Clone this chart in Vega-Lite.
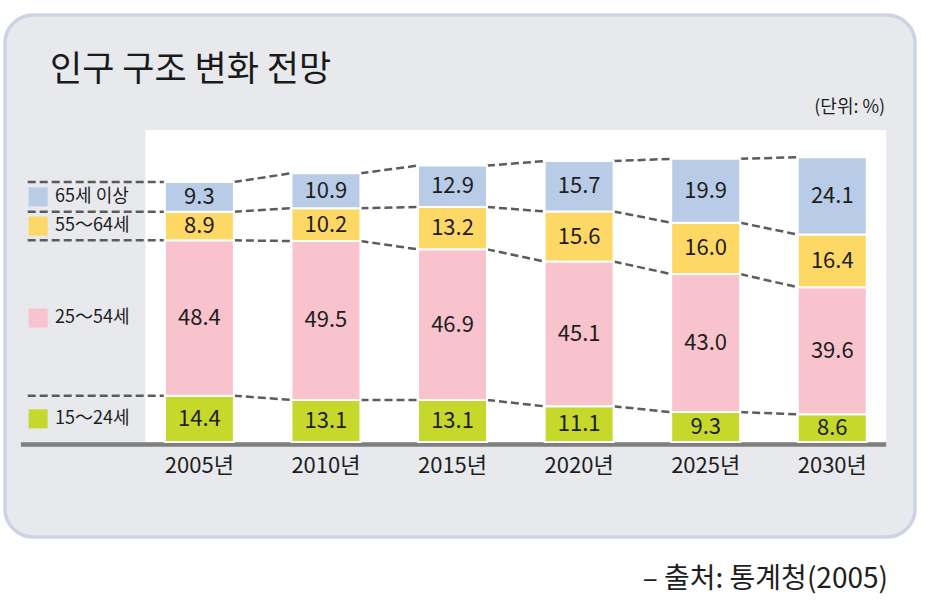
{
  "$schema": "https://vega.github.io/schema/vega-lite/v6.json",
  "width": 910,
  "height": 522,
  "padding": {"left": 5, "top": 15, "right": 12, "bottom": 64},
  "autosize": "none",
  "background": "white",
  "title": {
    "text": "인구 구조 변화 전망",
    "anchor": "start",
    "frame": "group",
    "orient": "top",
    "baseline": "middle",
    "offset": -90,
    "dx": 45,
    "font": "Noto Sans CJK KR",
    "fontSize": 35,
    "fontWeight": "normal",
    "color": "#1a1a1a"
  },
  "view": {"fill": "#e8e9ed", "stroke": "#cdd3e4", "strokeWidth": 3.5, "cornerRadius": 28},
  "config": {"font": "Noto Sans CJK KR"},
  "datasets": {
    "pop": [
      {"year": 2005, "group": "15～24세", "order": 1, "value": 14.4},
      {"year": 2005, "group": "25～54세", "order": 2, "value": 48.4},
      {"year": 2005, "group": "55～64세", "order": 3, "value": 8.9},
      {"year": 2005, "group": "65세 이상", "order": 4, "value": 9.3},
      {"year": 2010, "group": "15～24세", "order": 1, "value": 13.1},
      {"year": 2010, "group": "25～54세", "order": 2, "value": 49.5},
      {"year": 2010, "group": "55～64세", "order": 3, "value": 10.2},
      {"year": 2010, "group": "65세 이상", "order": 4, "value": 10.9},
      {"year": 2015, "group": "15～24세", "order": 1, "value": 13.1},
      {"year": 2015, "group": "25～54세", "order": 2, "value": 46.9},
      {"year": 2015, "group": "55～64세", "order": 3, "value": 13.2},
      {"year": 2015, "group": "65세 이상", "order": 4, "value": 12.9},
      {"year": 2020, "group": "15～24세", "order": 1, "value": 11.1},
      {"year": 2020, "group": "25～54세", "order": 2, "value": 45.1},
      {"year": 2020, "group": "55～64세", "order": 3, "value": 15.6},
      {"year": 2020, "group": "65세 이상", "order": 4, "value": 15.7},
      {"year": 2025, "group": "15～24세", "order": 1, "value": 9.3},
      {"year": 2025, "group": "25～54세", "order": 2, "value": 43.0},
      {"year": 2025, "group": "55～64세", "order": 3, "value": 16.0},
      {"year": 2025, "group": "65세 이상", "order": 4, "value": 19.9},
      {"year": 2030, "group": "15～24세", "order": 1, "value": 8.6},
      {"year": 2030, "group": "25～54세", "order": 2, "value": 39.6},
      {"year": 2030, "group": "55～64세", "order": 3, "value": 16.4},
      {"year": 2030, "group": "65세 이상", "order": 4, "value": 24.1}
    ]
  },
  "layer": [
    {
      "data": {"values": [{"what": "plot area"}]},
      "mark": {"type": "rect", "fill": "white"},
      "encoding": {
        "x": {"datum": 2002.87, "type": "quantitative", "scale": {"domain": [1997.52, 2033.07], "nice": false, "zero": false}, "axis": null},
        "x2": {"datum": 2032.13},
        "y": {"datum": 0, "type": "quantitative", "scale": {"domain": [-29.6, 133.0], "nice": false, "zero": false}, "axis": null},
        "y2": {"datum": 97.2}
      }
    },
    {
      "data": {"values": [{"what": "baseline"}]},
      "mark": {"type": "rule", "color": "#7f7f7f", "strokeWidth": 4.5, "yOffset": 2.5},
      "encoding": {
        "x": {"datum": 1997.95, "type": "quantitative"},
        "x2": {"datum": 2032.13},
        "y": {"datum": 0, "type": "quantitative"}
      }
    },
    {
      "data": {"name": "pop"},
      "transform": [
        {"stack": "value", "groupby": ["year"], "sort": [{"field": "order"}], "as": ["y0", "y1"]},
        {"window": [{"op": "lead", "field": "y1", "as": "nextY"}, {"op": "lead", "field": "year", "as": "nextYear"}], "groupby": ["group"], "sort": [{"field": "year"}]},
        {"filter": "datum.nextYear != null"}
      ],
      "mark": {"type": "rule", "color": "#5c5c5c", "strokeWidth": 2.5, "strokeDash": [8, 4], "xOffset": 34.5, "x2Offset": -34.5},
      "encoding": {
        "x": {"field": "year", "type": "quantitative"},
        "x2": {"field": "nextYear"},
        "y": {"field": "y1", "type": "quantitative"},
        "y2": {"field": "nextY"}
      }
    },
    {
      "data": {"name": "pop"},
      "transform": [
        {"stack": "value", "groupby": ["year"], "sort": [{"field": "order"}], "as": ["y0", "y1"]},
        {"filter": "datum.year == 2005"}
      ],
      "mark": {"type": "rule", "color": "#5c5c5c", "strokeWidth": 2.5, "strokeDash": [8, 4], "x2Offset": -34.5},
      "encoding": {
        "x": {"datum": 1998.22, "type": "quantitative"},
        "x2": {"datum": 2005},
        "y": {"field": "y1", "type": "quantitative"}
      }
    },
    {
      "data": {"name": "pop"},
      "transform": [
        {"stack": "value", "groupby": ["year"], "sort": [{"field": "order"}], "as": ["y0", "y1"]}
      ],
      "mark": {"type": "bar", "width": 69, "stroke": "white", "strokeWidth": 2},
      "encoding": {
        "x": {"field": "year", "type": "quantitative"},
        "y": {"field": "y0", "type": "quantitative"},
        "y2": {"field": "y1"},
        "color": {
          "field": "group", "type": "nominal", "legend": null,
          "scale": {"domain": ["65세 이상", "55～64세", "25～54세", "15～24세"], "range": ["#b8cbe7", "#fed865", "#f8c3cc", "#c6d82b"]}
        }
      }
    },
    {
      "data": {"name": "pop"},
      "transform": [
        {"stack": "value", "groupby": ["year"], "sort": [{"field": "order"}], "as": ["y0", "y1"]},
        {"calculate": "(datum.y0 + datum.y1) / 2", "as": "mid"}
      ],
      "mark": {"type": "text", "fontSize": 22, "color": "#1e1e1e", "baseline": "middle", "letterSpacing": -0.5},
      "encoding": {
        "x": {"field": "year", "type": "quantitative"},
        "y": {"field": "mid", "type": "quantitative"},
        "text": {"field": "value", "type": "quantitative", "format": ".1f"}
      }
    },
    {
      "data": {"name": "pop"},
      "transform": [
        {"stack": "value", "groupby": ["year"], "sort": [{"field": "order"}], "as": ["y0", "y1"]},
        {"calculate": "(datum.y0 + datum.y1) / 2", "as": "mid"},
        {"filter": "datum.year == 2005"}
      ],
      "mark": {"type": "point", "shape": "square", "filled": true, "size": 361, "opacity": 1},
      "encoding": {
        "x": {"datum": 1998.63, "type": "quantitative"},
        "y": {"field": "mid", "type": "quantitative"},
        "color": {"field": "group", "type": "nominal", "legend": null}
      }
    },
    {
      "data": {"name": "pop"},
      "transform": [
        {"stack": "value", "groupby": ["year"], "sort": [{"field": "order"}], "as": ["y0", "y1"]},
        {"calculate": "(datum.y0 + datum.y1) / 2", "as": "mid"},
        {"filter": "datum.year == 2005"}
      ],
      "mark": {"type": "text", "align": "left", "baseline": "middle", "fontSize": 18, "color": "#1e1e1e", "letterSpacing": -0.5},
      "encoding": {
        "x": {"datum": 1999.3, "type": "quantitative"},
        "y": {"field": "mid", "type": "quantitative"},
        "text": {"field": "group"}
      }
    },
    {
      "data": {"name": "pop"},
      "transform": [
        {"filter": "datum.order == 1"},
        {"calculate": "datum.year + '년'", "as": "yearLabel"}
      ],
      "mark": {"type": "text", "baseline": "middle", "fontSize": 22, "color": "#1e1e1e", "letterSpacing": -0.5},
      "encoding": {
        "x": {"field": "year", "type": "quantitative"},
        "y": {"datum": -7.5, "type": "quantitative"},
        "text": {"field": "yearLabel"}
      }
    },
    {
      "data": {"values": [{"note": "(단위: %)"}]},
      "mark": {"type": "text", "align": "right", "baseline": "middle", "fontSize": 18, "color": "#1e1e1e"},
      "encoding": {
        "x": {"datum": 2032.09, "type": "quantitative"},
        "y": {"datum": 104.0, "type": "quantitative"},
        "text": {"field": "note"}
      }
    },
    {
      "data": {"values": [{"note": "– 출처: 통계청(2005)"}]},
      "mark": {"type": "text", "align": "right", "baseline": "middle", "fontSize": 28, "color": "#1e1e1e", "clip": false},
      "encoding": {
        "x": {"datum": 2032.2, "type": "quantitative"},
        "y": {"datum": -43.0, "type": "quantitative"},
        "text": {"field": "note"}
      }
    }
  ]
}
